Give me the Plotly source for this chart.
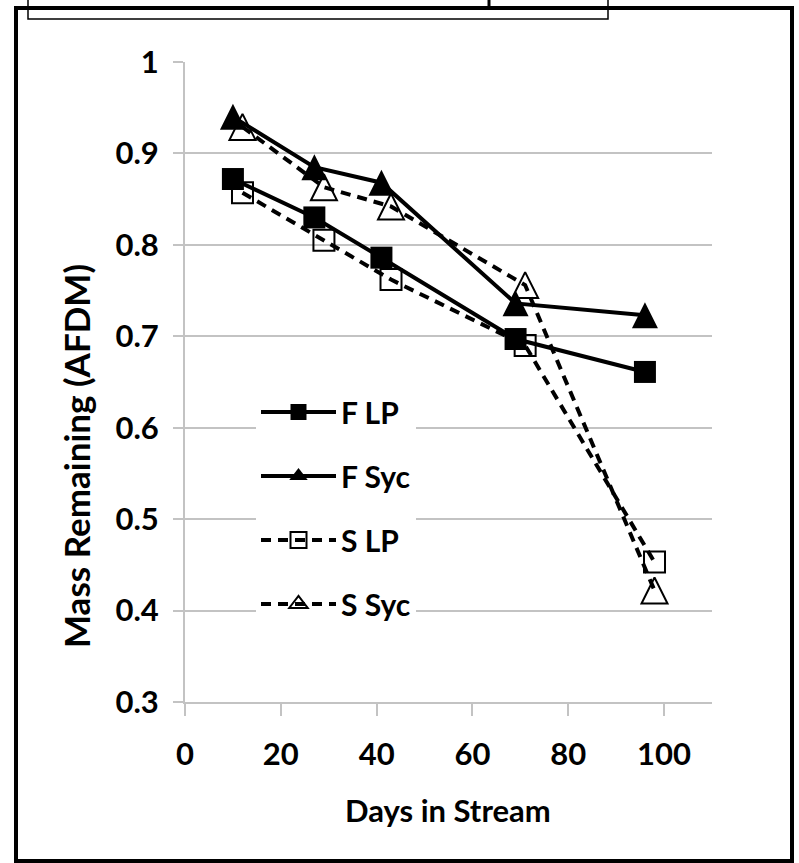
import plotly.graph_objects as go

# ---- data ----
days_F = [10, 27, 41, 69, 96]
days_S = [12, 29, 43, 71, 98]
f_lp = [0.872, 0.830, 0.786, 0.697, 0.661]
f_syc = [0.940, 0.885, 0.868, 0.736, 0.723]
s_lp = [0.857, 0.805, 0.762, 0.690, 0.453]
s_syc = [0.929, 0.863, 0.842, 0.756, 0.422]
series_names = ["F LP", "F Syc", "S LP", "S Syc"]
x_ticks = [0, 20, 40, 60, 80, 100]
y_ticks = [0.3, 0.4, 0.5, 0.6, 0.7, 0.8, 0.9, 1.0]
y_tick_text = ["0.3", "0.4", "0.5", "0.6", "0.7", "0.8", "0.9", "1"]

# ---- layout geometry (pixels) ----
W, H = 799, 863
L, R, T, B = 185, 712, 62, 702  # plot area edges


def px(x):
    return (x - L) / (R - L)


def py(y):
    return (B - y) / (B - T)


FONT = "Lato"
FS = 31
DASH = "10px,7px"
TRI = 26
SOLID = dict(color="black", width=4, backoff=0)
DASHED = dict(color="black", width=4, dash=DASH, backoff=0)

# marker styles used in the plot
m_flp = dict(symbol="square", size=22, color="black")
m_fsyc = dict(symbol="arrow-down", angle=180, size=TRI, color="black",
              standoff=TRI / 2)
m_slp = dict(symbol="square-open", size=21, color="black",
             line=dict(color="black", width=2))
m_ssyc = dict(symbol="arrow-down-open", angle=180, size=TRI, color="black",
              standoff=TRI / 2, line=dict(color="black", width=2))

# marker styles used for the legend keys
l_flp = dict(symbol="square", size=16, color="black")
l_fsyc = dict(symbol="triangle-up", size=17, color="black")
l_slp = dict(symbol="square-open", size=16, color="black",
             line=dict(color="black", width=2))
l_ssyc = dict(symbol="triangle-up-open", size=17, color="black",
              line=dict(color="black", width=2))

fig = go.Figure()
data = [(days_F, f_lp, SOLID, m_flp), (days_F, f_syc, SOLID, m_fsyc),
        (days_S, s_lp, DASHED, m_slp), (days_S, s_syc, DASHED, m_ssyc)]
for name, (xs, ys, ln, mk) in zip(series_names, data):
    fig.add_trace(go.Scatter(x=xs, y=ys, name=name, mode="lines+markers",
                             line=ln, marker=mk, showlegend=False))

legend_keys = [(SOLID, l_flp), (SOLID, l_fsyc), (DASHED, l_slp),
               (DASHED, l_ssyc)]
for i, (name, (ln, mk)) in enumerate(zip(series_names, legend_keys)):
    fig.add_trace(go.Scatter(x=[None], y=[None], name=name,
                             mode="lines+markers", line=ln, marker=mk,
                             legendgroup=str(i), showlegend=True,
                             hoverinfo="skip"))

grid = "#c3c3c3"
fig.update_layout(
    width=W, height=H,
    margin=dict(l=L, r=W - R, t=T, b=H - B, pad=0),
    paper_bgcolor="white", plot_bgcolor="white",
    font=dict(family=FONT, size=FS, color="black", weight="bold"),
    showlegend=True,
    legend=dict(x=px(256), y=py(386), xanchor="left", yanchor="top",
                bgcolor="white", borderwidth=0, tracegroupgap=22,
                itemwidth=75,
                font=dict(family=FONT, size=30, color="black", weight="bold")),
    xaxis=dict(range=[0, 110], tickvals=x_ticks, showgrid=False,
               showline=True, linecolor=grid, linewidth=2,
               ticks="outside", ticklen=12, tickwidth=2, tickcolor=grid,
               ticklabelstandoff=12, zeroline=False,
               tickfont=dict(family=FONT, size=FS, weight="bold")),
    yaxis=dict(range=[0.3, 1.0], tickvals=y_ticks, ticktext=y_tick_text,
               showgrid=True, gridcolor=grid, gridwidth=2,
               showline=True, linecolor=grid, linewidth=2,
               ticks="outside", ticklen=10, tickwidth=2, tickcolor=grid,
               ticklabelstandoff=8, zeroline=False,
               tickfont=dict(family=FONT, size=FS, weight="bold")),
    annotations=[
        dict(text="Days in Stream", xref="paper", yref="paper",
             x=px(448), y=py(810), xanchor="center", yanchor="middle",
             showarrow=False, font=dict(family=FONT, size=FS, weight="bold")),
        dict(text="Mass Remaining (AFDM)", xref="paper", yref="paper",
             x=px(76), y=py(456), xanchor="center", yanchor="middle",
             showarrow=False, textangle=-90,
             font=dict(family=FONT, size=35, weight="bold")),
    ],
    shapes=[
        # box at the top (partially visible)
        dict(type="rect", xref="paper", yref="paper",
             x0=px(28), x1=px(608), y0=py(19), y1=py(-5),
             line=dict(color="black", width=1.5), fillcolor="white",
             layer="above"),
        # outer frame
        dict(type="rect", xref="paper", yref="paper",
             x0=px(16), x1=px(792), y0=py(861), y1=py(8),
             line=dict(color="black", width=4), layer="above"),
        dict(type="line", xref="paper", yref="paper",
             x0=px(489), x1=px(489), y0=py(8), y1=py(-2),
             line=dict(color="black", width=3), layer="above"),
    ],
)

fig.write_html("out.html", config={"displayModeBar": False},
               post_script="document.body.style.margin='0px';")
